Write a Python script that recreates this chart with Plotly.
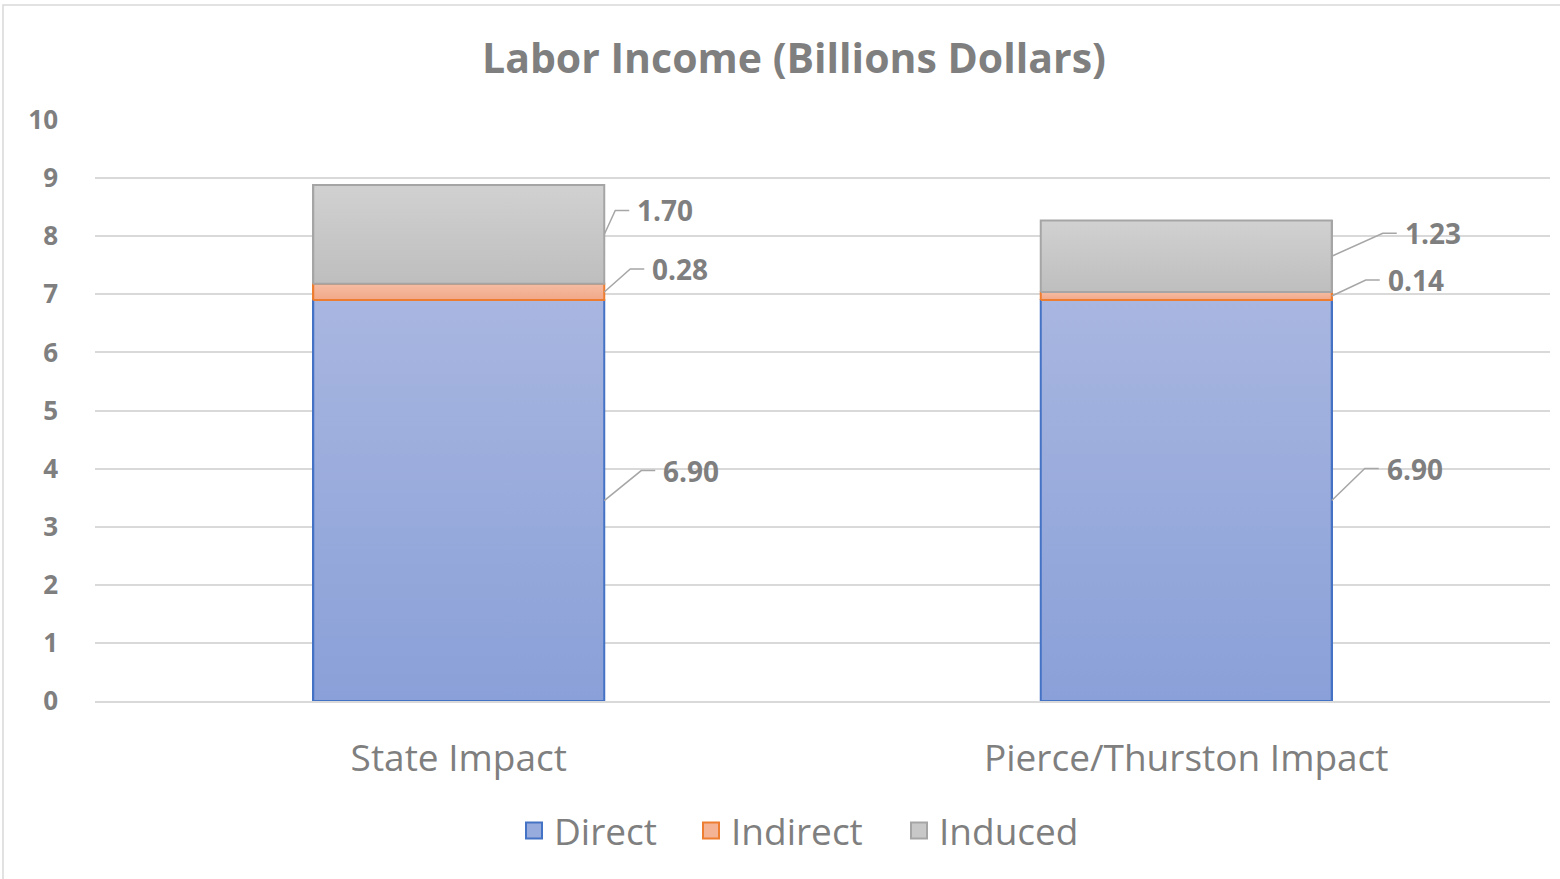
import plotly.graph_objects as go

categories = ["State Impact", "Pierce/Thurston Impact"]
direct = [6.90, 6.90]
indirect = [0.28, 0.14]
induced = [1.70, 1.23]

series_names = ["Direct", "Indirect", "Induced"]
fill_colors = ["#98ABDD", "#F4B394", "#C8C8C8"]
grad_top = ["#A8B6E0", "#F5BCA3", "#D1D1D1"]
grad_bottom = ["#8AA0D8", "#F2A888", "#BEBEBE"]
line_colors = ["#4472C4", "#ED7D31", "#A5A5A5"]

# leader line offsets in pixels (elbow position relative to bar edge / segment middle)
label_dx = [[37, 26, 11], [33, 34, 51]]
label_dy = [[30, 23, 24], [32, 16, 23]]
# legend square centres (px)
legend_px = [536, 713, 921]

FONT = "Open Sans"
GRAY = "#7F7F7F"
BAR_W = 0.4

W, H = 1560, 879
L, R, T, B = 95, 10, 120, 178
PW = W - L - R
PH = H - T - B
px_x = PW / 2.0   # px per category unit (range -0.5..1.5)
px_y = PH / 10.0  # px per y unit

xs = list(range(len(categories)))
series = [direct, indirect, induced]
fig = go.Figure()

for name, vals, fc, lc in zip(series_names, series, fill_colors, line_colors):
    fig.add_trace(go.Bar(
        x=xs, y=vals, name=name, width=BAR_W,
        marker=dict(color=fc, line=dict(color=lc, width=2)),
        showlegend=False, hoverinfo="skip",
    ))

# gradient fill for each stacked segment, drawn over the bars
for i, x in enumerate(xs):
    base = 0
    for j, vals in enumerate(series):
        top = base + vals[i]
        x0, x1 = x - BAR_W / 2, x + BAR_W / 2
        fig.add_trace(go.Scatter(
            x=[x0, x1, x1, x0, x0], y=[base, base, top, top, base],
            mode="lines", fill="toself",
            fillgradient=dict(type="vertical",
                              colorscale=[[0, grad_bottom[j]], [1, grad_top[j]]]),
            line=dict(color=line_colors[j], width=2),
            showlegend=False, hoverinfo="skip",
        ))
        base = top

# legend entries, one legend each so spacing can follow the original
legends = {}
for k, (name, fc, lc) in enumerate(zip(series_names, fill_colors, line_colors)):
    key = "legend" if k == 0 else "legend%d" % (k + 1)
    fig.add_trace(go.Scatter(
        x=[None], y=[None], mode="markers", name=name, legend=key,
        marker=dict(symbol="square", size=16, color=fc, line=dict(color=lc, width=2)),
    ))
    legends[key] = dict(
        orientation="h", x=(legend_px[k] - 22 - L) / PW, xanchor="left",
        y=-(831 - (H - B)) / PH, yanchor="middle",
        font=dict(family=FONT, size=37, color=GRAY),
        bgcolor="rgba(0,0,0,0)",
    )

# leader lines + data labels
annotations = []
for i, x in enumerate(xs):
    base = 0
    lx, ly = [], []
    for j, vals in enumerate(series):
        v = vals[i]
        mid = base + v / 2.0
        base += v
        x0 = x + BAR_W / 2
        ex = x0 + label_dx[i][j] / px_x
        ey = mid + label_dy[i][j] / px_y
        hx = ex + 14 / px_x
        lx += [x0, ex, hx, None]
        ly += [mid, ey, ey, None]
        annotations.append(dict(
            x=hx + 6 / px_x, y=ey, xref="x", yref="y",
            text="%.2f" % v, showarrow=False, xanchor="left", yanchor="middle",
            font=dict(family=FONT, size=28, color=GRAY, weight="bold"),
        ))
    fig.add_trace(go.Scatter(
        x=lx, y=ly, mode="lines", line=dict(color="#A6A6A6", width=1.5),
        showlegend=False, hoverinfo="skip",
    ))

annotations.append(dict(
    x=(794 - L) / PW, y=1 + (T - 57) / PH, xref="paper", yref="paper",
    xanchor="center", yanchor="middle",
    text="<b>Labor Income (Billions Dollars)</b>", showarrow=False,
    font=dict(family=FONT, size=41, color=GRAY),
))

fig.update_layout(
    barmode="stack",
    width=W, height=H,
    margin=dict(l=L, r=R, t=T, b=B),
    paper_bgcolor="white", plot_bgcolor="white",
    annotations=annotations,
    shapes=[dict(
        type="rect", xref="paper", yref="paper",
        x0=(3 - L) / PW, x1=(W + 30 - L) / PW,
        y0=-(H + 30 - (H - B)) / PH, y1=1 + (T - 5) / PH,
        line=dict(color="#D9D9D9", width=1.5), layer="below",
    )],
    **legends,
)

fig.update_xaxes(
    range=[-0.5, 1.5], tickvals=xs, ticktext=categories,
    showgrid=False, showline=True, linecolor="#D9D9D9", linewidth=1.5,
    tickfont=dict(family=FONT, size=37, color=GRAY),
    ticks="", ticklabelstandoff=24, zeroline=False,
)
fig.update_yaxes(
    range=[0, 10], dtick=1, showgrid=True, gridcolor="#D9D9D9", gridwidth=1.5,
    zeroline=False, showline=False,
    tickfont=dict(family=FONT, size=26, color=GRAY, weight="bold"),
    ticks="", ticklabelstandoff=36,
)

# drop the default body margin so the figure sits at the page origin
fig.write_html("out.html", config={"displayModeBar": False},
               post_script="document.body.style.margin='0px';")
